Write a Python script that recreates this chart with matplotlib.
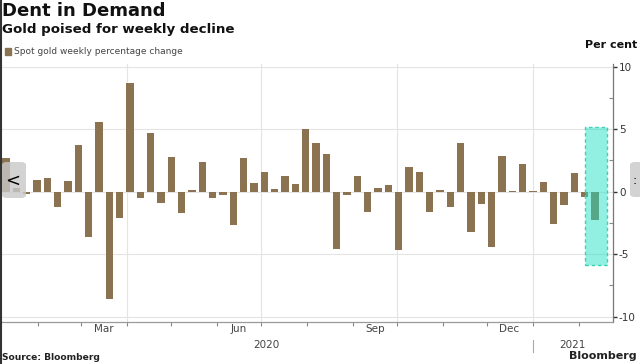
import numpy as np
import pandas as pd
import matplotlib
matplotlib.use('Agg')
import matplotlib.pyplot as plt
import matplotlib.dates as mdates
import matplotlib.transforms as mtransforms
from matplotlib.patches import FancyBboxPatch, Rectangle
from matplotlib.lines import Line2D

# ============================================================
# Data: spot gold weekly % change (week ending Fridays)
# ============================================================
weeks = pd.date_range('2020-01-10', periods=58, freq='W-FRI')
pct_change = [
    2.7, 0.3, -0.2, 0.9, 1.1, -1.2, 0.85, 3.75, -3.6, 5.6,
    -8.6, -2.1, 8.7, -0.5, 4.7, -0.9, 2.8, -1.7, 0.1, 2.4,
    -0.5, -0.3, -2.7, 2.7, 0.7, 1.55, 0.2, 1.25, 0.6, 5.05,
    3.9, 3.0, -4.6, -0.3, 1.25, -1.65, 0.3, 0.5, -4.7, 2.0,
    1.6, -1.65, 0.1, -1.2, 3.9, -3.2, -1.0, -4.45, 2.85, 0.05,
    2.25, 0.05, 0.8, -2.6, -1.1, 1.5, -0.4, -2.3,
]
month_labels = ['Mar', 'Jun', 'Sep', 'Dec']
month_label_dates = pd.to_datetime(['2020-03-16', '2020-06-16', '2020-09-16', '2020-12-16'])
y_ticks = [-10, -5, 0, 5, 10]
y_ticklabels = ['-10', '-5', '0', '5', '10']
highlight_from, highlight_to = pd.Timestamp('2021-02-05'), pd.Timestamp('2021-02-20')
highlight_lo, highlight_hi = -5.9, 5.15

x_left, x_right = pd.Timestamp('2020-01-06'), pd.Timestamp('2021-02-24')

BAR = '#8b7352'
GRID = '#e4e4e4'

# ============================================================
# Figure
# ============================================================
fig = plt.figure(figsize=(6.4, 3.64), dpi=100)
ax = fig.add_axes([0.0, 1 - 321.7 / 364, 612.7 / 640, 257.5 / 364])

ax.bar(weeks, pct_change, width=5.0, color=BAR, zorder=2)

ax.set_xlim(x_left, x_right)
ax.set_ylim(-10.4, 10.2)

# highlight box on latest week
hx0 = mdates.date2num(highlight_from)
hx1 = mdates.date2num(highlight_to)
ax.add_patch(Rectangle((hx0, highlight_lo), hx1 - hx0, highlight_hi - highlight_lo,
                       facecolor=(0.1, 0.88, 0.76, 0.48), edgecolor='#3fd1b8',
                       lw=1.0, ls=(0, (2.5, 2)), zorder=3))

# grid
for y in [-10, -5, 0, 5, 10]:
    ax.axhline(y, color=GRID, lw=0.8, zorder=0)
for d in ['2020-04-01', '2020-07-01', '2020-10-01', '2021-01-01']:
    ax.axvline(pd.Timestamp(d), color=GRID, lw=0.8, zorder=0)

# spines
for s in ['left', 'top']:
    ax.spines[s].set_visible(False)
ax.spines['right'].set_color('#777777')
ax.spines['right'].set_linewidth(0.9)
ax.spines['bottom'].set_color('#9a9a9a')
ax.spines['bottom'].set_linewidth(0.9)

# y axis on the right
ax.yaxis.tick_right()
ax.set_yticks(y_ticks)
ax.set_yticklabels(y_ticklabels)
ax.set_yticks([-7.5, -2.5, 2.5, 7.5], minor=True)
ax.tick_params(axis='y', which='major', direction='out', length=3, width=1,
               color='#333333', labelsize=7.5, labelcolor='#333333', pad=1.5)
ax.tick_params(axis='y', which='minor', direction='in', length=3, width=0.8,
               color='#888888')

# x axis: month ticks, labels mid-month
ax.xaxis.set_major_locator(mdates.MonthLocator())
ax.xaxis.set_major_formatter(plt.NullFormatter())
ax.set_xticks(mdates.date2num(month_label_dates), minor=True)
ax.set_xticklabels(month_labels, minor=True)
ax.tick_params(axis='x', which='major', direction='out', length=3, width=0.8,
               color='#888888')
ax.tick_params(axis='x', which='minor', length=0, labelsize=7.5,
               labelcolor='#444444', pad=2)

# year labels + separator
trans = mtransforms.blended_transform_factory(ax.transData, ax.transAxes)
jan21 = mdates.date2num(pd.Timestamp('2021-01-01'))
xl, xr = mdates.date2num(x_left), mdates.date2num(x_right)
ax.text((xl + jan21) / 2, -0.09, '2020', transform=trans, ha='center', va='center',
        fontsize=7.5, color='#444444')
ax.text((jan21 + xr) / 2, -0.09, '2021', transform=trans, ha='center', va='center',
        fontsize=7.5, color='#444444')
ax.plot([jan21, jan21], [-0.07, -0.118], transform=trans, color='#aaaaaa',
        lw=0.8, clip_on=False)

# ============================================================
# Titles, legend, notes
# ============================================================
def px(x, y):
    return x / 640, 1 - y / 364

fig.text(*px(2, 11), 'Dent in Demand', fontsize=13, fontweight='bold',
         color='#111111', ha='left', va='center')
fig.text(*px(2, 30), 'Gold poised for weekly decline', fontsize=9.6,
         fontweight='bold', color='#111111', ha='left', va='center')
fig.patches.append(Rectangle(px(5, 55), 6 / 640, 7 / 364, color=BAR,
                             transform=fig.transFigure, figure=fig))
fig.text(*px(14, 52), 'Spot gold weekly percentage change', fontsize=6.5,
         color='#444444', ha='left', va='center')
fig.text(*px(637, 45), 'Per cent', fontsize=8, fontweight='bold',
         color='#111111', ha='right', va='center')
fig.text(*px(2, 358), 'Source: Bloomberg', fontsize=6.6, fontweight='bold',
         color='#222222', ha='left', va='center')
fig.text(*px(637, 356), 'Bloomberg', fontsize=8, fontweight='bold',
         color='#222222', ha='right', va='center')

# carousel buttons overlaid on the screenshot
fig.patches.append(FancyBboxPatch(px(2, 198), 24 / 640, 36 / 364,
                                  boxstyle='round,pad=0,rounding_size=0.008',
                                  facecolor='#c9c9c9', edgecolor='none', alpha=0.8,
                                  transform=fig.transFigure, figure=fig, zorder=5))
fig.text(*px(13, 181), '<', fontsize=13, color='black', ha='center', va='center',
         zorder=6)
fig.patches.append(FancyBboxPatch(px(630, 197), 14 / 640, 35 / 364,
                                  boxstyle='round,pad=0,rounding_size=0.008',
                                  facecolor='#c9c9c9', edgecolor='none', alpha=0.8,
                                  transform=fig.transFigure, figure=fig, zorder=5))
fig.text(*px(635, 180), ':', fontsize=9, color='black', ha='center', va='center',
         zorder=6)

# dark screenshot edge on the left
fig.lines.append(Line2D([0.001, 0.001], [0, 1], transform=fig.transFigure,
                        color='#333333', lw=1.5))

fig.savefig('out.png', dpi=100)
